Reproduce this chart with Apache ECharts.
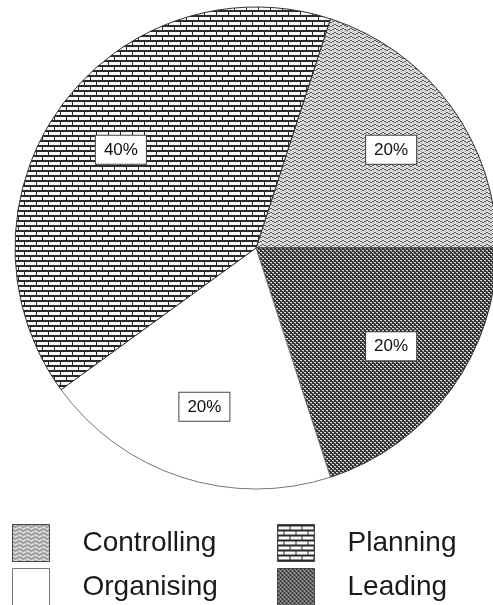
<!DOCTYPE html>
<html>
<head>
<meta charset="utf-8">
<script src="https://cdn.jsdelivr.net/npm/echarts@6/dist/echarts.min.js"></script>
<style>
html,body{margin:0;padding:0;background:#fff;}
#chart{width:493px;height:605px;}
</style>
</head>
<body>
<div id="chart"></div>
<script>
// Data (order around the pie, clockwise from the top boundary)
const categories = ['Controlling', 'Leading', 'Organising', 'Planning'];
const values = [20, 20, 20, 40];
// Legend layout: 2x2 grid (row-major)
const legendRow1 = ['Controlling', 'Planning'];
const legendRow2 = ['Organising', 'Leading'];

function makeTile(w, h, draw) {
  const c = document.createElement('canvas');
  c.width = w; c.height = h;
  const ctx = c.getContext('2d');
  draw(ctx);
  return { image: c, repeat: 'repeat' };
}
const patterns = {
  Planning: makeTile(12, 10, ctx => {
    ctx.fillStyle = '#fafafa'; ctx.fillRect(0, 0, 12, 10);
    ctx.fillStyle = '#2a2a2a';
    ctx.fillRect(0, 0, 12, 2);
    ctx.fillRect(0, 5, 12, 2);
    ctx.fillRect(0, 0, 1, 5);
    ctx.fillRect(6, 5, 1, 5);
  }),
  Controlling: makeTile(8, 4, ctx => {
    ctx.fillStyle = '#dedede'; ctx.fillRect(0, 0, 8, 4);
    ctx.fillStyle = '#5a5a5a';
    [[0,1],[1,1],[2,2],[3,2],[4,1],[5,1],[6,0],[7,0]].forEach(p => ctx.fillRect(p[0], p[1], 1, 1));
    ctx.fillStyle = '#a8a8a8';
    [[1,3],[5,3]].forEach(p => ctx.fillRect(p[0], p[1], 1, 1));
  }),
  Leading: makeTile(4, 4, ctx => {
    ctx.fillStyle = '#333'; ctx.fillRect(0, 0, 4, 4);
    ctx.fillStyle = '#d8d8d8';
    ctx.fillRect(0, 0, 2, 1);
    ctx.fillRect(2, 2, 2, 1);
    ctx.fillStyle = '#888';
    ctx.fillRect(1, 1, 1, 1);
    ctx.fillRect(3, 3, 1, 1);
  }),
  Organising: '#ffffff'
};

const chart = echarts.init(document.getElementById('chart'), null, { renderer: 'canvas' });
function legendFor(name, left, top) {
  return {
    orient: 'horizontal',
    left: left,
    top: top,
    padding: 0,
    itemWidth: 37,
    itemHeight: 37,
    icon: 'rect',
    selectedMode: false,
    itemStyle: { borderColor: name === 'Organising' ? '#777' : '#444', borderWidth: 1 },
    textStyle: {
      fontFamily: 'Liberation Sans, Arial, sans-serif',
      fontSize: 28,
      color: '#1a1a1a',
      padding: [0, 0, 0, 28]
    },
    data: [name]
  };
}
const colLeft = [12, 277];
const rowTop = [524, 568];
const legends = [];
[legendRow1, legendRow2].forEach((row, r) => row.forEach((name, c) => legends.push(legendFor(name, colLeft[c], rowTop[r]))));

chart.setOption({
  backgroundColor: '#ffffff',
  animation: false,
  legend: legends,
  series: [
    {
      type: 'pie',
      center: [256, 248],
      radius: [0, 241],
      startAngle: 72,
      clockwise: true,
      silent: true,
      label: { show: false },
      labelLine: { show: false },
      data: categories.map((c, i) => ({
        name: c, value: values[i],
        itemStyle: { color: patterns[c], borderColor: c === 'Organising' ? '#777' : '#333', borderWidth: 1 }
      }))
    },
    {
      type: 'pie',
      center: [256, 248],
      radius: [87, 241],
      startAngle: 72,
      clockwise: true,
      silent: true,
      itemStyle: { color: 'rgba(0,0,0,0)', borderWidth: 0 },
      labelLine: { show: false },
      label: {
        show: true,
        position: 'inside',
        formatter: '{d}%',
        fontFamily: 'Liberation Sans, Arial, sans-serif',
        fontSize: 17,
        color: '#111',
        backgroundColor: '#ffffff',
        borderColor: '#444',
        borderWidth: 1,
        padding: [6, 8, 5, 8]
      },
      data: categories.map((c, i) => ({ name: c, value: values[i] }))
    }
  ]
});
</script>
</body>
</html>
